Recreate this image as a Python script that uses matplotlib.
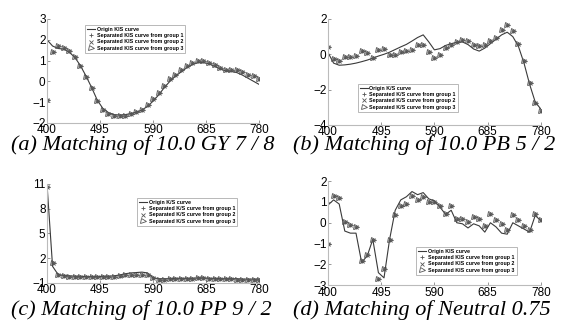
import matplotlib
matplotlib.use("Agg")
import matplotlib.pyplot as plt

# wavelength samples (nm)
wl = list(range(400, 790, 10))

# (a) 10.0 GY 7/8
a_origin = [2.0, 1.7, 1.58, 1.55, 1.4, 1.15, 0.75, 0.25, -0.3, -0.9, -1.3, -1.5, -1.6,
            -1.62, -1.6, -1.55, -1.48, -1.38, -1.2, -0.95, -0.65, -0.3, 0.0, 0.25, 0.45,
            0.65, 0.8, 0.9, 0.9, 0.85, 0.72, 0.6, 0.5, 0.48, 0.42, 0.3, 0.15, 0.0, -0.15]
a_group1 = [-0.92, 1.39, 1.69, 1.61, 1.45, 1.18, 0.73, 0.21, -0.32, -0.95, -1.37, -1.56,
            -1.65, -1.68, -1.65, -1.58, -1.48, -1.39, -1.16, -0.87, -0.56, -0.23, 0.1,
            0.32, 0.53, 0.73, 0.89, 0.97, 0.97, 0.9, 0.77, 0.65, 0.53, 0.53, 0.53, 0.45,
            0.32, 0.24, 0.13]
a_group2 = list(a_group1)
a_group3 = list(a_group1)

# (b) 10.0 PB 5/2
b_origin = [0.1, -0.5, -0.62, -0.6, -0.56, -0.5, -0.42, -0.33, -0.22, -0.1, 0.0, 0.12,
            0.27, 0.42, 0.56, 0.75, 0.95, 1.1, 0.7, 0.25, 0.32, 0.5, 0.6, 0.68, 0.7, 0.55,
            0.3, 0.18, 0.35, 0.6, 0.85, 1.1, 1.25, 1.0, 0.45, -0.5, -1.7, -2.7, -3.1]
b_group1 = [0.43, -0.27, -0.36, -0.13, -0.13, -0.12, 0.19, 0.06, -0.19, 0.24, 0.3, -0.04,
            -0.04, 0.11, 0.19, 0.25, 0.5, 0.53, 0.11, -0.2, -0.05, 0.35, 0.5, 0.7, 0.82,
            0.78, 0.55, 0.45, 0.5, 0.75, 0.95, 1.4, 1.65, 1.3, 0.6, -0.4, -1.65, -2.75, -3.2]
b_group2 = list(b_group1)
b_group3 = list(b_group1)

# (c) 10.0 PP 9/2
c_origin = [11.0, 1.0, 0.0, -0.1, -0.15, -0.2, -0.2, -0.25, -0.25, -0.25, -0.2, -0.2,
            -0.15, -0.05, 0.1, 0.2, 0.25, 0.3, 0.2, -0.4, -0.5, -0.5, -0.5, -0.45, -0.45,
            -0.45, -0.45, -0.4, -0.4, -0.45, -0.45, -0.5, -0.5, -0.5, -0.5, -0.55, -0.55,
            -0.55, -0.55]
c_group1 = [10.6, 1.4, -0.1, -0.2, -0.25, -0.3, -0.3, -0.35, -0.35, -0.35, -0.3, -0.3,
            -0.25, -0.2, -0.1, -0.05, 0.0, 0.0, -0.1, -0.45, -0.6, -0.6, -0.55, -0.55,
            -0.5, -0.5, -0.5, -0.45, -0.45, -0.5, -0.5, -0.55, -0.55, -0.55, -0.6, -0.6,
            -0.6, -0.65, -0.6]
c_group2 = list(c_group1)
c_group3 = list(c_group1)

# (d) Neutral 0.75
d_origin = [0.85, 1.1, 0.9, -0.4, -0.5, -0.5, -1.9, -1.6, -0.8, -2.4, -2.65, -0.8, 0.6,
            1.1, 1.25, 1.5, 1.35, 1.45, 1.15, 1.05, 0.75, 0.4, 0.6, 0.0, -0.05, -0.25,
            -0.05, -0.15, -0.45, 0.0, -0.2, -0.5, -0.55, 0.0, -0.15, -0.3, -0.45, 0.35, 0.1]
d_group1 = [-1.0, 1.29, 1.2, 0.03, -0.13, -0.21, -1.82, -1.53, -0.84, -2.7, -2.2, -0.84,
            0.35, 0.8, 0.89, 1.29, 1.08, 1.24, 1.0, 1.0, 0.79, 0.42, 0.79, 0.19, 0.19,
            0.06, 0.26, 0.19, -0.18, 0.42, 0.14, -0.05, -0.34, 0.35, 0.14, -0.18, -0.34,
            0.42, 0.14]
d_group2 = list(d_group1)
d_group3 = list(d_group1)

xticks = [400, 495, 590, 685, 780]

panels = [
    dict(origin=a_origin, g=(a_group1, a_group2, a_group3), ylim=(-2, 3),
         yticks=[-2, -1, 0, 1, 2, 3], rect=[0.083, 0.624, 0.375, 0.318],
         leg=(0.18, 0.945), title="(a) Matching of 10.0 GY 7 / 8", tx=0.252, ty=0.557,
         lab="Origin KIS curve", glab="Separated KIS curve from group {}"),
    dict(origin=b_origin, g=(b_group1, b_group2, b_group3), ylim=(-4, 2),
         yticks=[-4, -2, 0, 2], rect=[0.5795, 0.618, 0.376, 0.324],
         leg=(0.14, 0.39), title="(b) Matching of 10.0 PB 5 / 2", tx=0.749, ty=0.557,
         lab="Origin K/S curve", glab="Separated K/S curve from group {}"),
    dict(origin=c_origin, g=(c_group1, c_group2, c_group3), ylim=(-1, 11),
         yticks=[-1, 2, 5, 8, 11], rect=[0.083, 0.135, 0.375, 0.303],
         leg=(0.425, 0.86), title="(c) Matching of 10.0 PP 9 / 2", tx=0.249, ty=0.052,
         lab="Origin K/S curve", glab="Separated K/S curve from group {}"),
    dict(origin=d_origin, g=(d_group1, d_group2, d_group3), ylim=(-3, 2),
         yticks=[-3, -2, -1, 0, 1, 2], rect=[0.5795, 0.128, 0.376, 0.318],
         leg=(0.415, 0.37), title="(d) Matching of Neutral 0.75", tx=0.745, ty=0.052,
         lab="Origin KIS curve", glab="Separated KIS curve from group {}"),
]

fig = plt.figure(figsize=(5.66, 3.27), dpi=100)
mk = ["+", "x", ">"]
ms = [3.2, 2.6, 3.6]

for p in panels:
    ax = fig.add_axes(p["rect"])
    ax.plot(wl, p["origin"], color="#3a3a3a", lw=0.8, label=p["lab"])
    for i, grp in enumerate(p["g"]):
        ax.plot(wl, grp, ls="none", marker=mk[i], ms=ms[i], mew=0.6, color="#555555",
                mfc="none", label=p["glab"].format(i + 1))
    ax.set_xlim(400, 780)
    ax.set_ylim(*p["ylim"])
    ax.set_xticks(xticks)
    ax.set_yticks(p["yticks"])
    for s in ["top", "right"]:
        ax.spines[s].set_visible(False)
    for s in ["left", "bottom"]:
        ax.spines[s].set_color("#bbbbbb")
        ax.spines[s].set_linewidth(0.8)
    ax.tick_params(direction="in", length=2, width=0.6, color="#888888", pad=1,
                   labelsize=8.5)
    for t in ax.get_xticklabels() + ax.get_yticklabels():
        t.set_fontfamily("Liberation Sans")
    leg = ax.legend(loc="upper left", bbox_to_anchor=p["leg"],
                    prop={"family": "Liberation Sans", "weight": "bold", "size": 3.8},
                    frameon=True, fancybox=False, borderpad=0.4, labelspacing=0.25,
                    handlelength=1.5, handletextpad=0.3, borderaxespad=0)
    leg.get_frame().set_edgecolor("#999999")
    leg.get_frame().set_linewidth(0.6)
    fig.text(p["tx"], p["ty"], p["title"], ha="center", va="center",
             fontfamily="Liberation Serif", fontstyle="italic", fontsize=16)

fig.savefig("out.png", dpi=100)
